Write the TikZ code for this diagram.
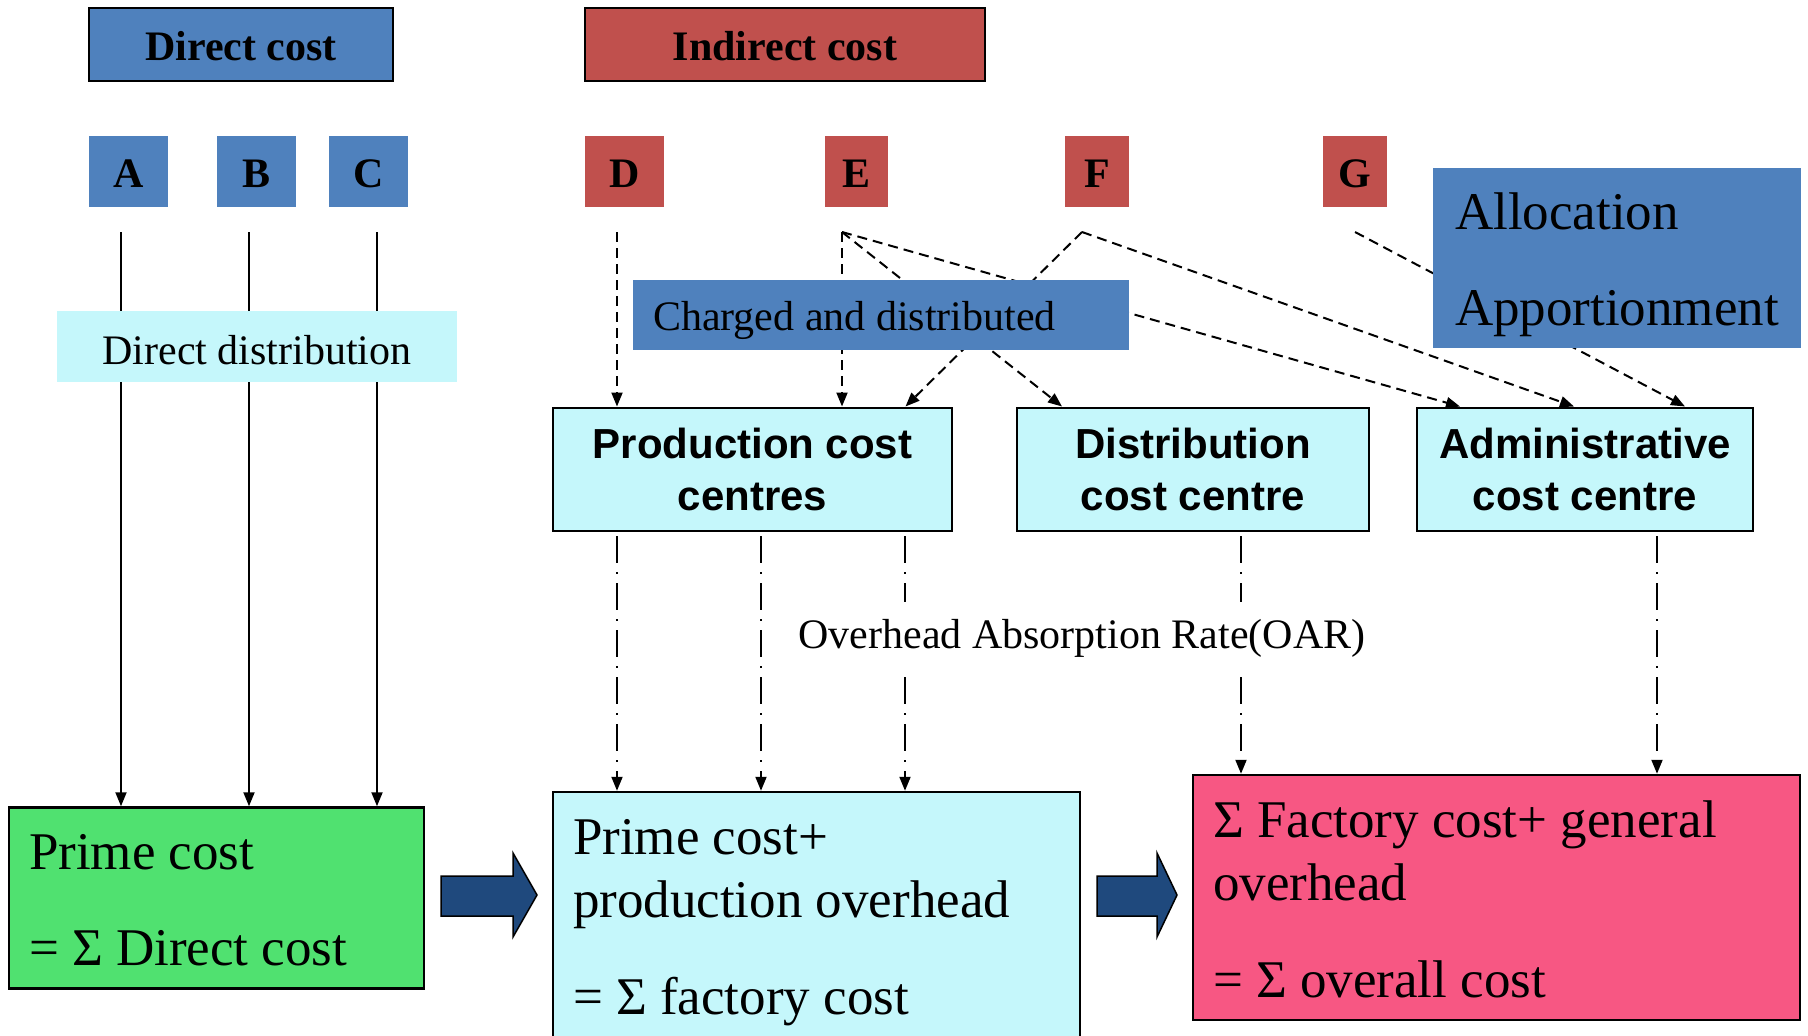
\documentclass[tikz,border=0pt]{standalone}
\usepackage{fontspec}
\setmainfont{Liberation Serif}
\setsansfont{Liberation Sans}
\usetikzlibrary{arrows.meta,calc}
\definecolor{offblue}{HTML}{4F81BD}
\definecolor{offred}{HTML}{C0504D}
\definecolor{lcyan}{HTML}{C5F7FB}
\definecolor{lgreen}{HTML}{50E170}
\definecolor{lpink}{HTML}{F75783}
\definecolor{dblue}{HTML}{1F497D}
\newcommand\fszA{\fontsize{42}{50}\selectfont}
\newcommand\fszB{\fontsize{53}{63}\selectfont}
\newcommand\fszC{\fontsize{53}{96}\selectfont}
\newcommand\fszD{\fontsize{42}{52}\selectfont}
\begin{document}
\begin{tikzpicture}[x=1pt,y=-1pt,
  hdr/.style={draw=black, line width=2.5pt, minimum height=73pt, inner sep=0pt, text height=31pt, text depth=0pt, font=\fszA\bfseries},
  letter/.style={minimum height=71pt, inner sep=0pt, text height=33pt, text depth=0pt, font=\fszA\bfseries},
  centrebox/.style={draw=black, line width=2pt, fill=lcyan, minimum height=123pt, inner sep=0pt, font=\fszD\sffamily\bfseries, align=center},
  sumbox/.style={draw=black, line width=2.5pt, inner xsep=20pt, inner ysep=0pt, align=flush left, font=\fszB},
  conn/.style={line width=2pt, -{Triangle[length=14pt,width=11pt]}},
  dconn/.style={conn, dash pattern=on 10pt off 6pt},
  ddconn/.style={conn, dash pattern=on 27pt off 9pt on 2pt off 9pt},
  blockarrow/.style={fill=dblue, draw=black, line width=1.5pt, line join=miter}]
\useasboundingbox (0,0) rectangle (1808,1036);

% headers
\node[hdr, fill=offblue, minimum width=304pt] (dc) at (241,44.5) {Direct cost};
\node[hdr, fill=offred, minimum width=400pt] (ic) at (785,44.5) {Indirect cost};

% letters
\node[letter, fill=offblue, minimum width=79pt] (A) at (128.5,171) {A};
\node[letter, fill=offblue, minimum width=79pt] (B) at (256.5,171) {B};
\node[letter, fill=offblue, minimum width=79pt] (C) at (368.5,171) {C};
\node[letter, fill=offred, minimum width=79pt] (D) at (624.5,171) {D};
\node[letter, fill=offred, minimum width=63pt] (E) at (856,171) {E};
\node[letter, fill=offred, minimum width=64pt] (F) at (1097,171) {F};
\node[letter, fill=offred, minimum width=64pt] (G) at (1355,171) {G};

% cost centres
\node[centrebox, minimum width=399pt] (prod) at (752.5,469) {Production cost\\centres};
\node[centrebox, minimum width=352pt] (dist) at (1193,469) {Distribution\\cost centre};
\node[centrebox, minimum width=336pt] (adm) at (1585,469) {Administrative\\cost centre};

% bottom boxes
\node[sumbox, fill=lgreen, minimum width=415pt, minimum height=181pt, text width=375pt] (prime) at (216.5,898) {\rule{0pt}{40pt}Prime cost\\[33pt]= Σ Direct cost};
\node[sumbox, fill=lcyan, minimum width=527pt, minimum height=248pt, text width=487pt] (mid) at (816.5,916) {\rule{0pt}{48pt}Prime cost+\\production overhead\\[34pt]= Σ factory cost};
\node[sumbox, fill=lpink, minimum width=607pt, minimum height=245pt, text width=567pt] (pink) at (1496.5,897.5) {\rule{0pt}{40pt}Σ Factory cost+ general\\overhead\\[34pt]= Σ overall cost};

% block arrows
\path[blockarrow] (441,876) -- (513,876) -- (513,853) -- (537,895) -- (513,937) -- (513,916) -- (441,916) -- cycle;
\path[blockarrow] (1097,876) -- (1157,876) -- (1157,853) -- (1177,895) -- (1157,937) -- (1157,916) -- (1097,916) -- cycle;

% start points
\coordinate (sa) at (121,232);
\coordinate (sb) at (249,232);
\coordinate (sc) at (377,232);
\coordinate (sd) at (617,232);
\coordinate (se) at (842,232);
\coordinate (sf) at (1082,232);
\coordinate (sg) at (1355,232);
\coordinate (p1) at (617,536);
\coordinate (p2) at (761,536);
\coordinate (p3) at (905,536);
\coordinate (p4) at (1241,536);
\coordinate (p5) at (1657,536);

% direct distribution
\draw[conn] (sa) -- (sa |- prime.north);
\draw[conn] (sb) -- (sb |- prime.north);
\draw[conn] (sc) -- (sc |- prime.north);

% charged and distributed
\draw[dconn] (sd) -- (sd |- prod.north);
\draw[dconn] (se) -- (se |- prod.north);
\draw[dconn] (se) -- ([xshift=-131pt]dist.north);
\draw[dconn] (se) -- ([xshift=-125pt]adm.north);
\draw[dconn] (sf) -- ([xshift=153pt]prod.north);
\draw[dconn] (sf) -- ([xshift=-11pt]adm.north);
\draw[dconn] (sg) -- ([xshift=100pt]adm.north);

% absorption
\draw[ddconn] (p1) -- (p1 |- mid.north);
\draw[ddconn] (p2) -- (p2 |- mid.north);
\draw[ddconn] (p3) -- (p3 |- mid.north);
\draw[ddconn] (p4) -- (p4 |- pink.north);
\draw[ddconn] (p5) -- (p5 |- pink.north);

% overlay labels
\node[fill=lcyan, minimum width=400pt, minimum height=71pt, inner sep=0pt, text height=36pt, text depth=0pt, font=\fszA] (ddist) at (257,346.5) {Direct distribution};
\node[fill=offblue, minimum width=496pt, minimum height=70pt, inner sep=0pt, text width=456pt, align=flush left, font=\fszA] (charged) at (881,315) {\rule{0pt}{40pt}Charged and distributed};
\node[fill=offblue, minimum width=368pt, minimum height=180pt, inner sep=0pt, text width=324pt, align=flush left, font=\fszC] (alloc) at (1617,258) {\rule{0pt}{51pt}Allocation\\Apportionment};
\node[fill=white, minimum height=72pt, inner xsep=4pt, inner ysep=0pt, font=\fszA] (oar) at (1082,638) {Overhead Absorption Rate(OAR)};
\end{tikzpicture}
\end{document}
